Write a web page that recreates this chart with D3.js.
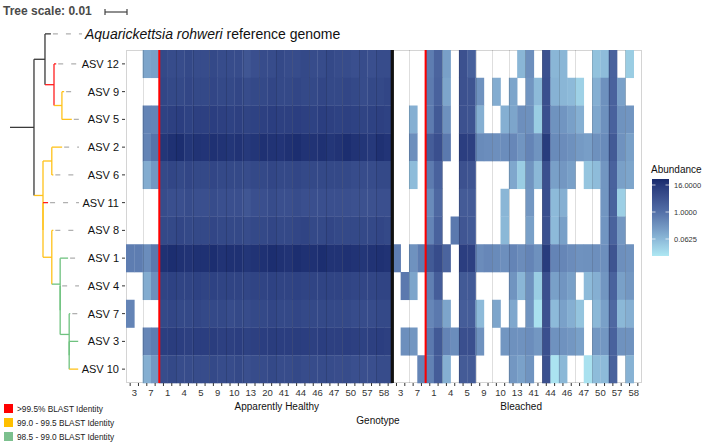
<!DOCTYPE html>
<html><head><meta charset="utf-8">
<script src="https://cdn.jsdelivr.net/npm/d3@7"></script>
<style>body{margin:0;background:#fff}svg{display:block}text{font-family:"Liberation Sans",Arial,sans-serif}</style>
</head><body><svg id="c" width="709" height="446"></svg>
<script>
// ---------------- DATA ----------------
const asvNames = ["ASV 12","ASV 9","ASV 5","ASV 2","ASV 6","ASV 11","ASV 8","ASV 1","ASV 4","ASV 7","ASV 3","ASV 10"];
const conditions = ["Apparently Healthy","Bleached"];
const healthyGenotypes = ["3","7","1","4","5","9","10","13","20","41","44","46","47","50","57","58"];
const bleachedGenotypes = ["3","7","1","4","5","9","10","13","41","44","46","47","50","57","58"];
const samplesPerGenotype = 2;
const legendTicks = [16, 1, 0.0625];
const identityLabels = [">99.5% BLAST Identity","99.0 - 99.5 BLAST Identity","98.5 - 99.0 BLAST Identity"];
const N = null;
// abundance per ASV: 32 healthy samples then 30 bleached samples
const ASV12 = [N,N,0.13,0.16, 7,6,6,7,6,6,7,6,6,6,3.5,5,6,6,7,6,6,7,6,6,7,6,6,5,6,5,6,6,
  N,N,N,N, 0.6,1.8,0.16,N, 4.5,2.2,N,N, N,N,N,0.07, 0.3,N,4.5,0.07, 0.07,N,N,N, 0.045,0.055,2,N, 0.03,N];
const ASV9 = [N,N,N,N, 8,7,7,8,7,7,8,7,7,8,6,7,7,8,7,7,8,7,7,8,7,7,8,7,6,7,7,8,
  N,N,N,N, 0.65,2,0.13,N, 4.5,4,0.27,N, 0.1,N,0.13,N, 0.24,0.06,5,0.08, 0.07,0.06,0.025,N, 0.09,0.28,2,0.15, N,N];
const ASV5 = [N,N,0.45,0.45, 10,11,12,10,11,11,12,11,10,11,9,10,11,12,11,11,12,11,10,12,11,10,11,10,9,10,11,10,
  N,N,0.09,N, 0.65,3,0.28,N, 4.5,4,0.09,N, N,0.09,0.13,0.3, 0.28,0.03,5,0.26, 0.24,0.16,0.09,N, 0.12,0.28,2,0.26, 0.24,N];
const ASV2 = [N,N,0.45,0.9, 18,22,24,18,20,19,22,20,18,20,16,18,22,20,19,22,24,20,20,22,18,20,24,20,18,16,22,19,
  N,N,0.3,N, 2.5,5,0.7,N, 12,11,0.35,0.32, 0.3,0.32,0.4,0.24, 0.45,0.25,14,0.35, 0.33,0.28,0.2,0.17, 0.28,0.35,3,0.27, 0.16,N];
const ASV6 = [N,N,0.1,0.22, 7,8,7,8,7,7,8,7,7,7,6,7,7,8,7,7,8,7,7,7,7,7,7,6,6,6,7,7,
  N,N,0.055,N, 0.65,2,N,N, 4.5,4,N,N, N,N,0.12,0.03, 0.25,0.065,5,0.16, 0.22,0.16,N,0.04, 0.055,0.23,2,0.16, 0.13,N];
const ASV11 = [N,N,N,N, 6,5,5,6,5,5,6,5,5,5,3.5,5,5,6,5,5,6,5,5,5,5,5,5,4.5,4.5,4.5,5,5,
  N,N,N,N, 0.35,1.5,N,N, 2.8,2.8,N,N, N,0.07,N,N, 0.22,N,5,0.06, 0.09,N,N,N, N,0.23,2,0.027, N,N];
const ASV8 = [N,N,N,N, 7,7,8,7,7,7,8,7,7,7,6,7,7,8,7,7,8,9,7,7,8,7,7,7,7,7,8,7,
  N,N,N,N, 0.45,2,N,0.7, 3.5,3,N,N, N,0.065,N,N, 0.16,N,4.5,0.06, 0.16,N,N,N, N,0.24,2,0.22, N,N];
const ASV1 = [0.6,0.6,0.32,0.7, 22,24,22,20,22,22,24,20,22,22,18,20,22,24,22,20,24,22,22,24,20,20,22,20,18,20,22,20,
  0.6,N,0.27,0.6, 3,6,1.8,N, 12,11,0.33,0.4, 0.35,0.3,0.45,0.33, 0.45,0.28,14,0.45, 0.42,0.33,0.27,0.28, 0.3,0.3,4,0.3, 0.27,N];
const ASV4 = [N,N,0.1,0.3, 9,10,9,9,10,9,10,9,9,9,8,9,9,10,9,9,10,9,9,9,9,9,9,8,8,8,9,9,
  N,0.7,0.13,N, 0.55,2.5,N,N, 3,3,N,N, N,N,0.25,0.07, 0.28,0.03,5,0.16, 0.24,0.16,N,0.06, 0.09,0.23,2,0.16, 0.22,N];
const ASV7 = [0.45,N,N,N, 7,8,7,7,8,7,7,7,6,7,6,7,7,8,7,7,8,7,7,7,7,7,7,6,6,6,7,7,
  N,N,N,N, 0.42,0.7,0.13,N, 2.5,2.5,0.06,N, 0.13,N,0.12,N, 0.25,0.014,4.5,0.06, 0.15,0.09,0.042,N, 0.065,0.16,1.5,0.065, 0.09,N];
const ASV3 = [N,N,0.42,0.6, 12,13,12,11,12,12,13,11,11,12,10,11,12,13,12,12,13,12,11,12,11,11,12,11,10,11,12,11,
  N,0.3,0.23,N, 0.7,3,0.45,0.32, 5,5,0.27,N, N,0.23,0.28,0.27, 0.32,0.22,5,0.27, 0.27,0.22,0.16,N, 0.22,0.22,2,0.27, 0.27,N];
const ASV10 = [N,N,0.09,0.22, 6,7,6,6,6,6,7,6,6,7,5,6,6,7,6,6,7,6,6,6,6,5.5,6,5,5,5,6,6,
  N,N,N,0.45, 0.5,2.5,0.09,N, 2.8,2.8,N,N, N,N,0.22,0.15, 0.25,N,4.5,0.013, 0.065,N,N,0.014, 0.055,0.06,2,N, 0.08,N];
const abundanceRows = [ASV12,ASV9,ASV5,ASV2,ASV6,ASV11,ASV8,ASV1,ASV4,ASV7,ASV3,ASV10];

// phylogeny (branch lengths in substitutions/site; c = identity class: 0 none,1 red,2 yellow,3 green)
const refName = "Aquarickettsia rohweri";
const tree = {len:0.0109,c:0,children:[
  {len:0.005,c:0,children:[
    {name:"REF",len:0.0027,c:0},
    {len:0.0041,c:1,children:[
      {name:"ASV 12",len:0.001,c:1},
      {len:0.0036,c:2,children:[
        {name:"ASV 9",len:0.001,c:2},
        {name:"ASV 5",len:0.0045,c:2}]}]}]},
  {len:0.0041,c:2,children:[
    {len:0.004,c:2,children:[
      {name:"ASV 2",len:0.0047,c:2},
      {name:"ASV 6",len:0.0007,c:2}]},
    {len:0,c:2,children:[
      {name:"ASV 11",len:0.0023,c:1},
      {len:0.004,c:2,children:[
        {name:"ASV 8",len:0.0007,c:2},
        {len:0.0038,c:3,children:[
          {name:"ASV 1",len:0.0036,c:3},
          {len:0,c:3,children:[
            {name:"ASV 4",len:0,c:3},
            {len:0.0041,c:3,children:[
              {name:"ASV 7",len:0.0005,c:3},
              {len:0,c:3,children:[
                {name:"ASV 3",len:0.0041,c:3},
                {name:"ASV 10",len:0.0041,c:2}]}]}]}]}]}]}]}]};

// ---------------- LAYOUT ----------------
const svg = d3.select("#c");
const P = {l:126, r:642, t:50, b:383};
const branchColors = ["#3a3a3a","#ff1f1f","#ffc21a","#6fc27f"];
const swatchColors = ["#ff0000","#ffc000","#7cc08e"];

const samples = [];
healthyGenotypes.forEach(g => { for (let k=0;k<samplesPerGenotype;k++) samples.push({id:"H-"+g+"-"+k, cond:0, g}); });
bleachedGenotypes.forEach(g => { for (let k=0;k<samplesPerGenotype;k++) samples.push({id:"B-"+g+"-"+k, cond:1, g}); });

const x = d3.scaleBand().domain(samples.map(s=>s.id)).range([P.l,P.r]);
const y = d3.scaleBand().domain(asvNames).range([P.t,P.b]);

// colour: log scale
const legendY = d3.scaleLog().base(2).domain([0.0625,16]).range([239,185]);
const barTop = 179, barBot = 256;
const vMin = legendY.invert(barBot), vMax = legendY.invert(barTop);
const color = d3.scaleLog().base(2)
  .domain([vMin, 0.0625, 1, 16, vMax])
  .range(["#aee8f3","#8cb9d8","#5470a8","#26397b","#17296b"])
  .interpolate(d3.interpolateLab).clamp(true);

// panel border
svg.append("rect").attr("x",P.l+0.5).attr("y",P.t+0.5).attr("width",P.r-P.l-1).attr("height",P.b-P.t-1)
  .attr("fill","#fff").attr("stroke","#d4d4d4");

// tiles
const cells = [];
abundanceRows.forEach((row,i) => row.forEach((v,j) => { if (v!=null) cells.push({asv:asvNames[i], s:samples[j].id, v}); }));
svg.append("g").selectAll("rect").data(cells).join("rect")
  .attr("x",d=>x(d.s)).attr("y",d=>y(d.asv)).attr("width",x.bandwidth()+0.3).attr("height",y.bandwidth()+0.3)
  .attr("fill",d=>color(d.v));

// genotype separators
const sep = svg.append("g");
samples.forEach((s,j) => {
  if (j>0 && j%samplesPerGenotype===0) {
    const xx = Math.round(x(s.id))+0.5;
    sep.append("line").attr("x1",xx).attr("x2",xx).attr("y1",P.t).attr("y2",P.b)
      .attr("stroke","#000").attr("stroke-opacity",0.13);
  }
});

// red lines after genotype "7" in each condition, black line between conditions
[["H-1-0"],["B-1-0"]].forEach(([id]) => {
  svg.append("line").attr("x1",x(id)).attr("x2",x(id)).attr("y1",P.t).attr("y2",P.b)
    .attr("stroke","#ff0000").attr("stroke-width",2);
});
const xb = x("B-3-0");
svg.append("line").attr("x1",xb).attr("x2",xb).attr("y1",P.t).attr("y2",P.b).attr("stroke","#111").attr("stroke-width",3.2);

// x axis ticks and labels
const ax = svg.append("g");
samples.forEach(s => {
  const cx = x(s.id)+x.bandwidth()/2;
  ax.append("line").attr("x1",cx).attr("x2",cx).attr("y1",P.b).attr("y2",P.b+3).attr("stroke","#333");
});
const genoCenters = [];
samples.forEach((s,j) => { if (j%samplesPerGenotype===0) genoCenters.push({g:s.g, cx:x(s.id)+x.bandwidth()*samplesPerGenotype/2}); });
ax.selectAll("text.g").data(genoCenters).join("text").attr("class","g")
  .attr("x",d=>d.cx).attr("y",P.b+13).attr("text-anchor","middle").attr("font-size",9.5).attr("fill","#333").text(d=>d.g);
const condPos = [x("H-41-0")+1, x("B-13-1")+4];
conditions.forEach((c,i) => {
  ax.append("text").attr("x",condPos[i]).attr("y",P.b+27).attr("text-anchor","middle").attr("font-size",10).attr("fill","#111").text(c);
});
ax.append("text").attr("x",378).attr("y",P.b+41).attr("text-anchor","middle").attr("font-size",10).attr("fill","#111").text("Genotype");

// y axis labels + ticks
const ay = svg.append("g");
asvNames.forEach(n => {
  const cy = y(n)+y.bandwidth()/2;
  ay.append("line").attr("x1",P.l-4).attr("x2",P.l-1).attr("y1",cy).attr("y2",cy).attr("stroke","#333");
  ay.append("text").attr("x",P.l-7).attr("y",cy+4).attr("text-anchor","end").attr("font-size",11).attr("fill","#111").text(n);
});

// ---------------- TREE ----------------
const treeX = d3.scaleLinear().domain([0,0.01]).range([10,32]);
const refY = y(asvNames[0]) + y.bandwidth()/2 - 30;
const root = d3.hierarchy(tree);
root.each(n => { n.dist = (n.parent ? n.parent.dist : 0) + n.data.len; });
root.eachAfter(n => {
  if (!n.children) n.yy = n.data.name==="REF" ? refY : y(n.data.name)+y.bandwidth()/2;
  else n.yy = (n.children[0].yy + n.children[n.children.length-1].yy)/2;
});
const tg = svg.append("g").attr("fill","none").attr("stroke-width",1.3);
root.each(n => {
  const x0 = treeX(n.parent ? n.parent.dist : 0), x1 = treeX(n.dist);
  if (x1 > x0) tg.append("line").attr("x1",x0).attr("x2",x1).attr("y1",n.yy).attr("y2",n.yy).attr("stroke",branchColors[n.data.c]);
  if (n.children) tg.append("line").attr("x1",x1).attr("x2",x1)
      .attr("y1",n.children[0].yy).attr("y2",n.children[n.children.length-1].yy).attr("stroke",branchColors[n.data.c]);
  if (!n.children) {
    const end = n.data.name==="REF" ? 82 : 79;
    if (x1+2 < end-2) tg.append("line").attr("x1",x1+2).attr("x2",end).attr("y1",n.yy).attr("y2",n.yy)
      .attr("stroke","#b0b0b0").attr("stroke-dasharray","5,8");
  }
});
// reference label
const rl = svg.append("text").attr("x",85).attr("y",refY+5).attr("font-size",14).attr("fill","#111");
rl.append("tspan").attr("font-style","italic").text(refName);
rl.append("tspan").text(" reference genome");

// tree scale
svg.append("text").attr("x",3).attr("y",15).attr("font-size",12).attr("font-weight","bold").attr("fill","#4a4a4a").text("Tree scale: 0.01");
const sb0 = 105, sb1 = sb0 + (treeX(0.01)-treeX(0));
const sg = svg.append("g").attr("stroke","#444").attr("stroke-width",1.2);
sg.append("line").attr("x1",sb0).attr("x2",sb1).attr("y1",12).attr("y2",12);
sg.append("line").attr("x1",sb0).attr("x2",sb0).attr("y1",9).attr("y2",15);
sg.append("line").attr("x1",sb1).attr("x2",sb1).attr("y1",9).attr("y2",15);

// ---------------- LEGENDS ----------------
svg.append("text").attr("x",651).attr("y",173).attr("font-size",10).attr("fill","#111").text("Abundance");
const defs = svg.append("defs");
const lg = defs.append("linearGradient").attr("id","grad").attr("x1",0).attr("x2",0).attr("y1",0).attr("y2",1);
d3.range(0,21).forEach(i => {
  const yy = barTop + (barBot-barTop)*i/20;
  lg.append("stop").attr("offset",i/20).attr("stop-color",color(legendY.invert(yy)));
});
svg.append("rect").attr("x",652).attr("y",barTop).attr("width",17).attr("height",barBot-barTop).attr("fill","url(#grad)");
legendTicks.forEach(t => {
  const yy = legendY(t);
  svg.append("line").attr("x1",652).attr("x2",655.5).attr("y1",yy).attr("y2",yy).attr("stroke","#fff").attr("stroke-opacity",0.7);
  svg.append("line").attr("x1",665.5).attr("x2",669).attr("y1",yy).attr("y2",yy).attr("stroke","#fff").attr("stroke-opacity",0.7);
  svg.append("text").attr("x",674).attr("y",yy+3).attr("font-size",7.5).attr("fill","#333").text(d3.format(".4f")(t));
});
identityLabels.forEach((t,i) => {
  const yy = 404 + i*14;
  svg.append("rect").attr("x",4).attr("y",yy).attr("width",9).attr("height",9).attr("fill",swatchColors[i]);
  svg.append("text").attr("x",17).attr("y",yy+7.5).attr("font-size",8.3).attr("font-family","'DejaVu Sans',Verdana,sans-serif").attr("fill","#222").text(t);
});
</script></body></html>
